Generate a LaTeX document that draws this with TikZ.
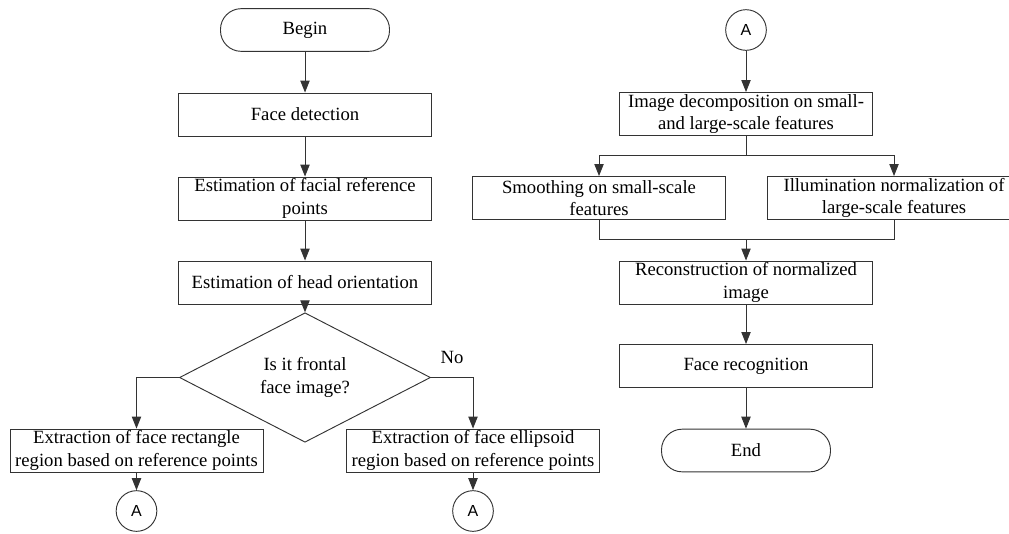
\documentclass[tikz,border=0pt]{standalone}
\usepackage{fontspec}
\setmainfont{Liberation Serif}
\newfontfamily\arialfont{Liberation Sans}
\usetikzlibrary{arrows.meta,shapes.geometric}
\begin{document}
\begin{tikzpicture}[x=0.75pt,y=-0.75pt,
  every node/.style={font=\fontsize{14}{17}\selectfont, text=black},
  line/.style={draw=black!80, line width=0.7pt},
  arr/.style={line, -{Triangle[length=9pt,width=7pt]}},
  proc/.style={line, rectangle, inner sep=0pt, align=center, minimum width=189.75pt, minimum height=32.25pt},
  term/.style={line, rectangle, rounded corners=15.5pt, inner sep=0pt, minimum width=126.75pt, minimum height=32pt},
  dec/.style={line, diamond, inner sep=0pt, align=center, minimum width=188.25pt, minimum height=62.25pt},
  conn/.style={line, circle, inner sep=0pt, minimum size=30.5pt, font=\arialfont\fontsize{12}{14}\selectfont}
]
\useasboundingbox (0,0) rectangle (1009,533);
\clip (0,0) rectangle (1009,533);

% left column
\node[term] (begin) at (305,30) {Begin};
\node[proc] (fd) at (305,114.5) {Face detection};
\node[proc] (frp) at (305,198.5) {Estimation of facial reference\\points};
\node[proc] (ho) at (305,282.5) {Estimation of head orientation};
\node[dec] (q) at (305,377.5) {Is it frontal\\face image?};
\node[proc] (rect) at (136.5,450.5) {Extraction of face rectangle\\region based on reference points};
\node[proc] (ell) at (473,450.5) {Extraction of face ellipsoid\\region based on reference points};
\node[conn] (a1) at (136.5,511) {A};
\node[conn] (a2) at (473,511) {A};
\node (no) at (452,357) {No};

\draw[arr] (begin) -- (fd);
\draw[arr] (fd) -- (frp);
\draw[arr] (frp) -- (ho);
\draw[arr] (ho) -- (q);
\draw[arr] (q.west) -| (rect.north);
\draw[arr] (q.east) -| (ell.north);
\draw[arr] (rect) -- (a1);
\draw[arr] (ell) -- (a2);

% right column
\node[conn] (a3) at (746,30) {A};
\node[proc] (idec) at (746,114) {Image decomposition on small-\\and large-scale features};
\node[proc] (smooth) at (599,198) {Smoothing on small-scale\\features};
\node[proc] (illum) at (894,198) {Illumination normalization of\\large-scale features};
\node[proc] (recon) at (746,282.5) {Reconstruction of normalized\\image};
\node[proc] (frec) at (746,366) {Face recognition};
\node[term] (end) at (746,450.5) {End};

\coordinate (split) at (746,155);
\coordinate (merge) at (746,239);
\draw[arr] (a3) -- (idec);
\draw[line] (idec.south) -- (split);
\draw[arr] (split) -| (smooth.north);
\draw[arr] (split) -| (illum.north);
\draw[line] (smooth.south) |- (merge);
\draw[line] (illum.south) |- (merge);
\draw[arr] (merge) -- (recon.north);
\draw[arr] (recon) -- (frec);
\draw[arr] (frec) -- (end);
\end{tikzpicture}
\end{document}
